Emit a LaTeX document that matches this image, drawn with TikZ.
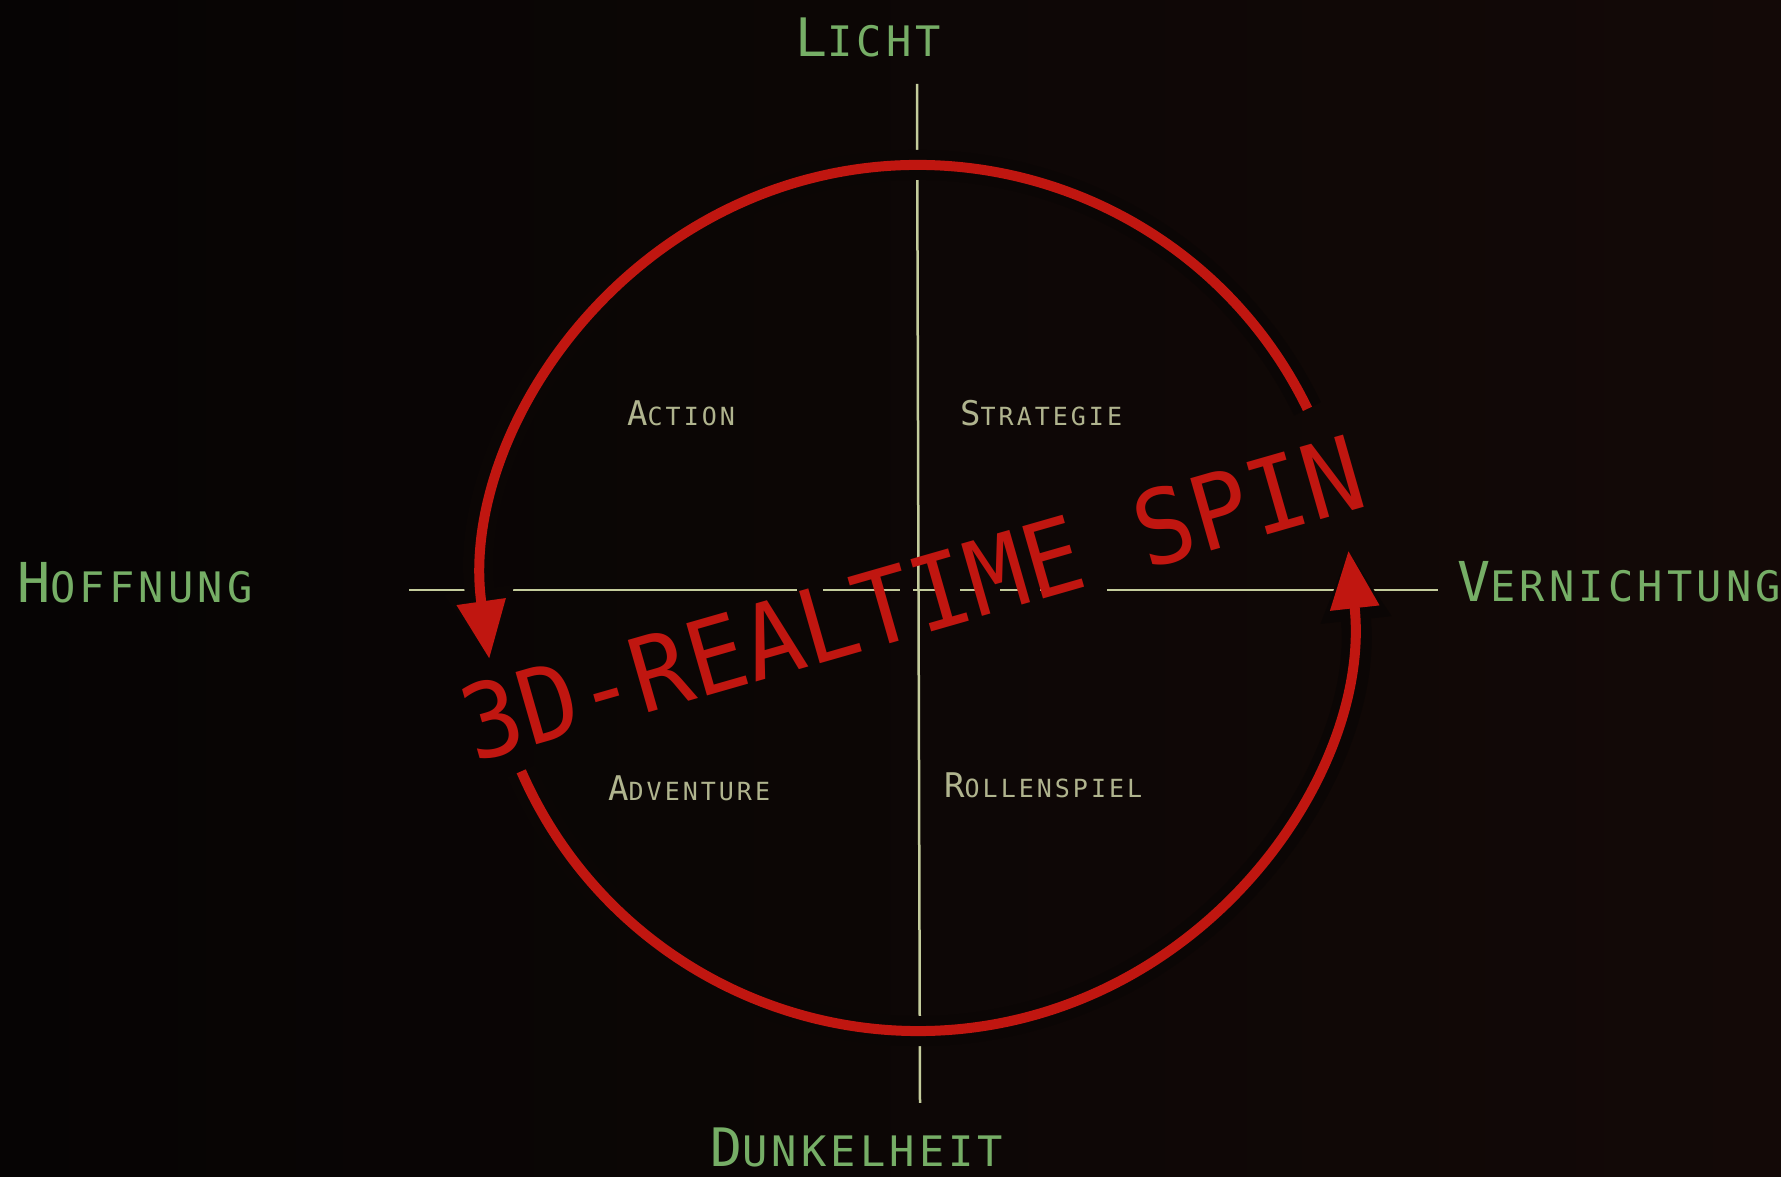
\documentclass[tikz,border=0pt]{standalone}
\usepackage{fontspec}
\usetikzlibrary{arrows.meta,calc}
\newfontfamily\spinfont{DejaVu Sans Mono}
\newfontfamily\polefont[LetterSpace=10]{DejaVu Sans Mono}
\newfontfamily\genrefont[LetterSpace=12]{DejaVu Sans Mono}
\definecolor{bgdark}{RGB}{6,4,4}
\definecolor{bgwarm}{RGB}{19,9,7}
\definecolor{halo}{RGB}{11,6,5}
\definecolor{spinred}{RGB}{192,22,16}
\definecolor{axiscol}{RGB}{196,204,156}
\definecolor{outergreen}{RGB}{118,174,102}
\definecolor{innergrey}{RGB}{176,180,142}
% first letter bigger, rest in the style's size
\newcommand{\scword}[3]{{\fontsize{#1}{#1}\selectfont#2}#3}

\begin{document}
\begin{tikzpicture}[
  x=1pt, y=1pt,
  axis/.style={draw=axiscol, line width=2.5pt},
  outer/.style={font=\polefont\fontsize{42}{42}\selectfont, text=outergreen, inner sep=0pt, anchor=base west},
  inner/.style={font=\genrefont\fontsize{25}{25}\selectfont, text=innergrey, inner sep=0pt, anchor=base west},
  ring/.style={draw=spinred, line width=10pt, -{Triangle[length=58pt,width=47pt]},
    preaction={draw=halo, line width=30pt, -{Triangle[length=70pt,width=66pt]}}},
  spin/.style={font=\spinfont\fontsize{103}{103}\selectfont, rotate=16, xscale=0.94, inner sep=0pt},
]
\fill[left color=bgdark, right color=bgwarm] (0,0) rectangle (1781,1177);
\useasboundingbox (0,0) rectangle (1781,1177);

% axes (the horizontal one broken where the title letters cross it)
\coordinate (axl) at (409,587);
\coordinate (axr) at (1438,587);
\coordinate (axt) at (917,1093);
\coordinate (axb) at (920,74);
\draw[axis] (axl) -- (797,587);
\foreach \a/\b in {823/900, 913/940, 960/980, 1000/1023, 1040/1057}
  \draw[axis] (\a,587) -- (\b,587);
\draw[axis] (1107,587) -- (axr);
\draw[axis] (axt) -- (axb);

% spin circle
\coordinate (c) at (918,579);
\draw[ring] ($(c)+(25.9:433)$) arc[start angle=25.9, end angle=188.1, radius=433];
\draw[ring] ($(c)+(203.6:433)$) arc[start angle=203.6, end angle=366.3, radius=433];

% title across the circle
\node[spin, text=spinred] (spin) at (912,579) {3D-REALTIME SPIN};

% poles
\node[outer] (licht)  at (795,1120) {\scword{53}{L}{ICHT}};
\node[outer] (dunkel) at (710,10)   {\scword{53}{D}{UNKELHEIT}};
\node[outer] (hoff)   at (17,574)   {\scword{55}{H}{OFFNUNG}};
\node[outer] (vern)   at (1457,575) {\scword{55}{V}{ERNICHTUNG}};

% genres
\node[inner] (action) at (627,751) {\scword{34}{A}{CTION}};
\node[inner] (strat)  at (960,751) {\scword{34}{S}{TRATEGIE}};
\node[inner] (adv)    at (608,376) {\scword{34}{A}{DVENTURE}};
\node[inner] (rolle)  at (944,379) {\scword{34}{R}{OLLENSPIEL}};
\end{tikzpicture}
\end{document}
